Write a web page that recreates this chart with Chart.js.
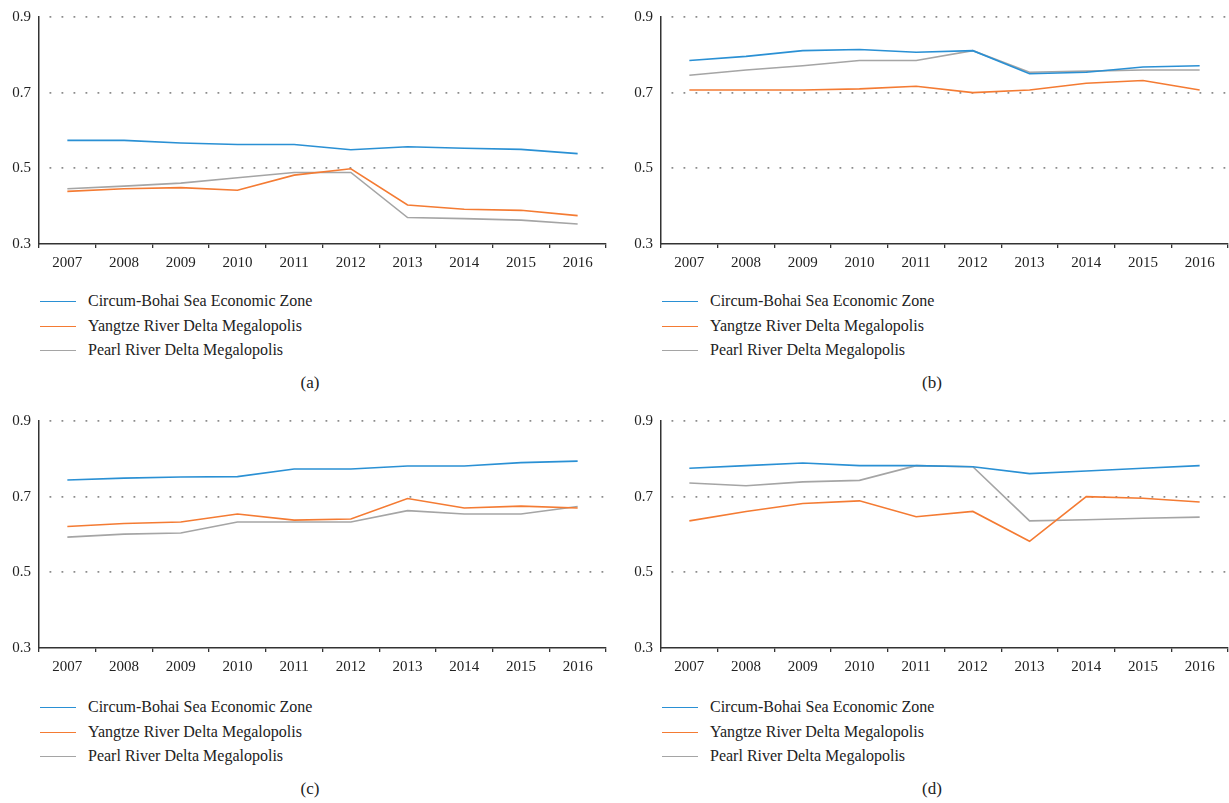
<!DOCTYPE html>
<html>
<head>
<meta charset="utf-8">
<script src="https://cdn.jsdelivr.net/npm/chart.js@4.4.1/dist/chart.umd.min.js"></script>
<style>
  html, body { margin: 0; padding: 0; background: #fff; }
  body { width: 1229px; height: 803px; position: relative; overflow: hidden;
         font-family: "Liberation Serif", "DejaVu Serif", serif; color: #222; }
  .panel { position: absolute; width: 610px; height: 280px; }
  .legend { position: absolute; font-size: 16px; line-height: 24.5px; }
  .legend .row { position: relative; height: 24.5px; white-space: nowrap; }
  .legend .swatch { position: absolute; left: 0; top: 12px; width: 36px; height: 0;
                    border-top: 1.6px solid; }
  .legend .txt { position: absolute; left: 48px; top: 0; }
  .caption { position: absolute; font-size: 17px; transform: translateX(-50%); }
</style>
</head>
<body>
<script>
// Years on the horizontal axis
const years = ['2007','2008','2009','2010','2011','2012','2013','2014','2015','2016'];
const yTicks = [0.3, 0.5, 0.7, 0.9];
const seriesNames = ['Circum-Bohai Sea Economic Zone', 'Yangtze River Delta Megalopolis', 'Pearl River Delta Megalopolis'];
const seriesColors = ['#2a90d4', '#f47b33', '#a5a5a5'];
const panelLabels = ['(a)', '(b)', '(c)', '(d)'];

// Panel (a)
const bohaiA   = [0.574, 0.574, 0.567, 0.563, 0.563, 0.549, 0.557, 0.553, 0.550, 0.539];
const yangtzeA = [0.439, 0.446, 0.449, 0.442, 0.482, 0.499, 0.403, 0.392, 0.389, 0.375];
const pearlA   = [0.446, 0.453, 0.461, 0.475, 0.489, 0.489, 0.370, 0.367, 0.363, 0.353];
// Panel (b)
const bohaiB   = [0.785, 0.796, 0.811, 0.814, 0.807, 0.811, 0.750, 0.754, 0.768, 0.771];
const yangtzeB = [0.707, 0.707, 0.707, 0.710, 0.717, 0.700, 0.707, 0.725, 0.732, 0.707];
const pearlB   = [0.746, 0.760, 0.771, 0.785, 0.785, 0.811, 0.754, 0.757, 0.760, 0.760];
// Panel (c)
const bohaiC   = [0.744, 0.749, 0.752, 0.753, 0.773, 0.773, 0.781, 0.781, 0.790, 0.794];
const yangtzeC = [0.621, 0.629, 0.633, 0.654, 0.638, 0.641, 0.695, 0.670, 0.675, 0.670];
const pearlC   = [0.593, 0.601, 0.604, 0.633, 0.633, 0.633, 0.663, 0.654, 0.654, 0.674];
// Panel (d)
const bohaiD   = [0.775, 0.782, 0.789, 0.782, 0.782, 0.779, 0.761, 0.768, 0.775, 0.782];
const yangtzeD = [0.636, 0.661, 0.682, 0.689, 0.647, 0.661, 0.582, 0.700, 0.696, 0.686];
const pearlD   = [0.736, 0.729, 0.739, 0.743, 0.782, 0.779, 0.636, 0.639, 0.643, 0.646];

const panels = [
  { series: [bohaiA, yangtzeA, pearlA], left: 0,   top: 0,   yw: 39 },
  { series: [bohaiB, yangtzeB, pearlB], left: 620, top: 0,   yw: 41 },
  { series: [bohaiC, yangtzeC, pearlC], left: 0,   top: 404, yw: 39 },
  { series: [bohaiD, yangtzeD, pearlD], left: 620, top: 404, yw: 41 }
];
const legendPos = [ {x: 40, y: 289}, {x: 662, y: 289}, {x: 40, y: 695}, {x: 662, y: 695} ];
const captionPos = [ {x: 310, y: 373}, {x: 932, y: 373}, {x: 310, y: 779}, {x: 932, y: 779} ];

const FONT = "'Liberation Serif', 'DejaVu Serif', serif";

panels.forEach((p, i) => {
  const wrap = document.createElement('div');
  wrap.className = 'panel';
  wrap.style.left = p.left + 'px';
  wrap.style.top = p.top + 'px';
  wrap.style.width = (i % 2 ? 609 : 610) + 'px';
  const cv = document.createElement('canvas');
  wrap.appendChild(cv);
  document.body.appendChild(wrap);

  new Chart(cv, {
    type: 'line',
    data: {
      labels: years,
      datasets: p.series.map((vals, k) => ({
        label: seriesNames[k],
        data: vals,
        borderColor: seriesColors[k],
        backgroundColor: seriesColors[k],
        borderWidth: 1.6,
        pointRadius: 0,
        tension: 0,
        fill: false
      }))
    },
    options: {
      responsive: true,
      maintainAspectRatio: false,
      animation: false,
      events: [],
      layout: { padding: { top: 16, right: i % 2 ? 1 : 4, left: 0, bottom: 0 } },
      plugins: { legend: { display: false }, tooltip: { enabled: false } },
      scales: {
        x: {
          type: 'category',
          offset: true,
          afterFit: s => { s.height = 36; },
          grid: {
            offset: true,
            drawOnChartArea: false,
            drawTicks: true,
            tickLength: 4,
            color: '#333',
            lineWidth: 1.3
          },
          border: { display: true, color: '#333', width: 1.5 },
          ticks: {
            color: '#222',
            padding: 6,
            maxRotation: 0,
            font: { family: FONT, size: 15 }
          }
        },
        y: {
          min: 0.3,
          max: 0.9,
          afterFit: s => { s.width = p.yw; },
          afterBuildTicks: s => { s.ticks = yTicks.map(v => ({ value: v })); },
          grid: {
            drawTicks: false,
            color: ctx => (ctx.tick && ctx.tick.value > 0.31) ? '#8c8c8c' : 'rgba(0,0,0,0)',
            lineWidth: 1.8
          },
          // dotted horizontal grid lines
          border: { display: true, color: '#333', width: 1.5, dash: [1.8, 10.2], dashOffset: -10 },
          ticks: {
            color: '#222',
            padding: 8,
            font: { family: FONT, size: 15 },
            callback: v => Number(v).toFixed(1)
          }
        }
      }
    }
  });

  // legend block
  const lg = document.createElement('div');
  lg.className = 'legend';
  lg.style.left = legendPos[i].x + 'px';
  lg.style.top = legendPos[i].y + 'px';
  seriesNames.forEach((name, k) => {
    const row = document.createElement('div');
    row.className = 'row';
    const sw = document.createElement('span');
    sw.className = 'swatch';
    sw.style.borderTopColor = seriesColors[k];
    const tx = document.createElement('span');
    tx.className = 'txt';
    tx.textContent = name;
    row.appendChild(sw);
    row.appendChild(tx);
    lg.appendChild(row);
  });
  document.body.appendChild(lg);

  const cap = document.createElement('div');
  cap.className = 'caption';
  cap.style.left = captionPos[i].x + 'px';
  cap.style.top = captionPos[i].y + 'px';
  cap.textContent = panelLabels[i];
  document.body.appendChild(cap);
});
</script>
</body>
</html>
